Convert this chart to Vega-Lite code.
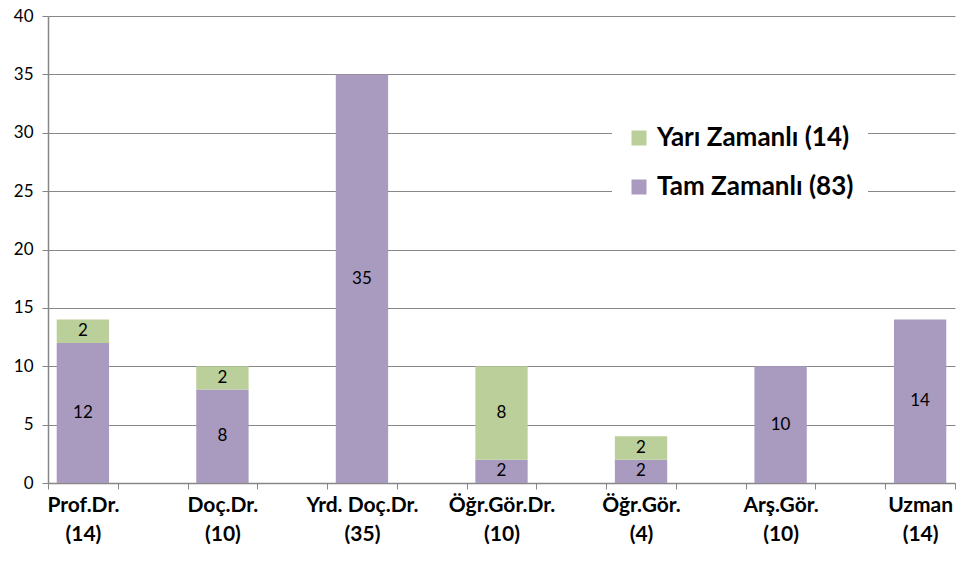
{
  "$schema": "https://vega.github.io/schema/vega-lite/v6.json",
  "autosize": "none",
  "width": 907,
  "height": 467,
  "padding": {"left": 48, "top": 16, "right": 3, "bottom": 91},
  "background": "white",
  "config": {
    "font": "Lato",
    "view": {"stroke": null}
  },
  "data": {
    "values": [
      {"kategori": "Prof.Dr.|(14)", "seri": "Tam Zamanlı (83)", "deger": 12, "sira": 1},
      {"kategori": "Prof.Dr.|(14)", "seri": "Yarı Zamanlı (14)", "deger": 2, "sira": 2},
      {"kategori": "Doç.Dr.|(10)", "seri": "Tam Zamanlı (83)", "deger": 8, "sira": 1},
      {"kategori": "Doç.Dr.|(10)", "seri": "Yarı Zamanlı (14)", "deger": 2, "sira": 2},
      {"kategori": "Yrd. Doç.Dr.|(35)", "seri": "Tam Zamanlı (83)", "deger": 35, "sira": 1},
      {"kategori": "Öğr.Gör.Dr.|(10)", "seri": "Tam Zamanlı (83)", "deger": 2, "sira": 1},
      {"kategori": "Öğr.Gör.Dr.|(10)", "seri": "Yarı Zamanlı (14)", "deger": 8, "sira": 2},
      {"kategori": "Öğr.Gör.|(4)", "seri": "Tam Zamanlı (83)", "deger": 2, "sira": 1},
      {"kategori": "Öğr.Gör.|(4)", "seri": "Yarı Zamanlı (14)", "deger": 2, "sira": 2},
      {"kategori": "Arş.Gör.|(10)", "seri": "Tam Zamanlı (83)", "deger": 10, "sira": 1},
      {"kategori": "Uzman|(14)", "seri": "Tam Zamanlı (83)", "deger": 14, "sira": 1}
    ]
  },
  "layer": [
    {
      "mark": {"type": "bar", "width": {"band": 0.75}},
      "encoding": {
        "x": {
          "field": "kategori",
          "type": "nominal",
          "scale": {
            "domain": ["Prof.Dr.|(14)", "b1", "Doç.Dr.|(10)", "b2", "Yrd. Doç.Dr.|(35)", "b3", "Öğr.Gör.Dr.|(10)", "b4", "Öğr.Gör.|(4)", "b5", "Arş.Gör.|(10)", "b6", "Uzman|(14)"],
            "paddingInner": 0,
            "paddingOuter": 0
          },
          "axis": {
            "title": null,
            "labelAngle": 0,
            "labelExpr": "isString(datum.value) && indexof(datum.value,'|')>=0 ? split(datum.value,'|') : ''",
            "labelFont": "Lato",
            "labelFontWeight": "bold",
            "labelFontSize": 21,
            "labelColor": "black",
            "labelLineHeight": 29,
            "labelPadding": 5,
            "tickBand": "extent",
            "tickSize": 6,
            "tickColor": "#878787",
            "domainColor": "#878787",
            "domainWidth": 1.5,
            "grid": false
          }
        },
        "y": {
          "field": "deger",
          "type": "quantitative",
          "stack": "zero",
          "scale": {"domain": [0, 40]},
          "axis": {
            "title": null,
            "values": [0, 5, 10, 15, 20, 25, 30, 35, 40],
            "labelFont": "Lato",
            "labelFontSize": 17,
            "labelColor": "black",
            "labelPadding": 9,
            "tickSize": 6,
            "tickColor": "#878787",
            "domainColor": "#878787",
            "domainWidth": 1.5,
            "grid": true,
            "gridColor": "#878787",
            "gridWidth": 1
          }
        },
        "order": {"field": "sira", "type": "quantitative", "sort": "ascending"},
        "color": {
          "field": "seri",
          "type": "nominal",
          "scale": {
            "domain": ["Yarı Zamanlı (14)", "Tam Zamanlı (83)"],
            "range": ["#BACF99", "#A99AC0"]
          },
          "legend": {
            "title": null,
            "orient": "none",
            "legendX": 564,
            "legendY": 95,
            "padding": 14,
            "fillColor": "white",
            "symbolType": "square",
            "symbolSize": 225,
            "symbolStrokeWidth": 0,
            "labelFont": "Lato",
            "labelFontWeight": "bold",
            "labelFontSize": 26,
            "labelColor": "black",
            "labelOffset": 5,
            "labelLimit": 400,
            "rowPadding": 23
          }
        }
      }
    },
    {
      "mark": {"type": "text", "font": "Lato", "fontSize": 17, "color": "black", "baseline": "middle"},
      "encoding": {
        "x": {"field": "kategori", "type": "nominal"},
        "y": {"field": "deger", "type": "quantitative", "stack": "zero", "bandPosition": 0.5},
        "detail": {"field": "seri", "type": "nominal"},
        "order": {"field": "sira", "type": "quantitative", "sort": "ascending"},
        "text": {"field": "deger", "type": "quantitative"}
      }
    }
  ]
}
